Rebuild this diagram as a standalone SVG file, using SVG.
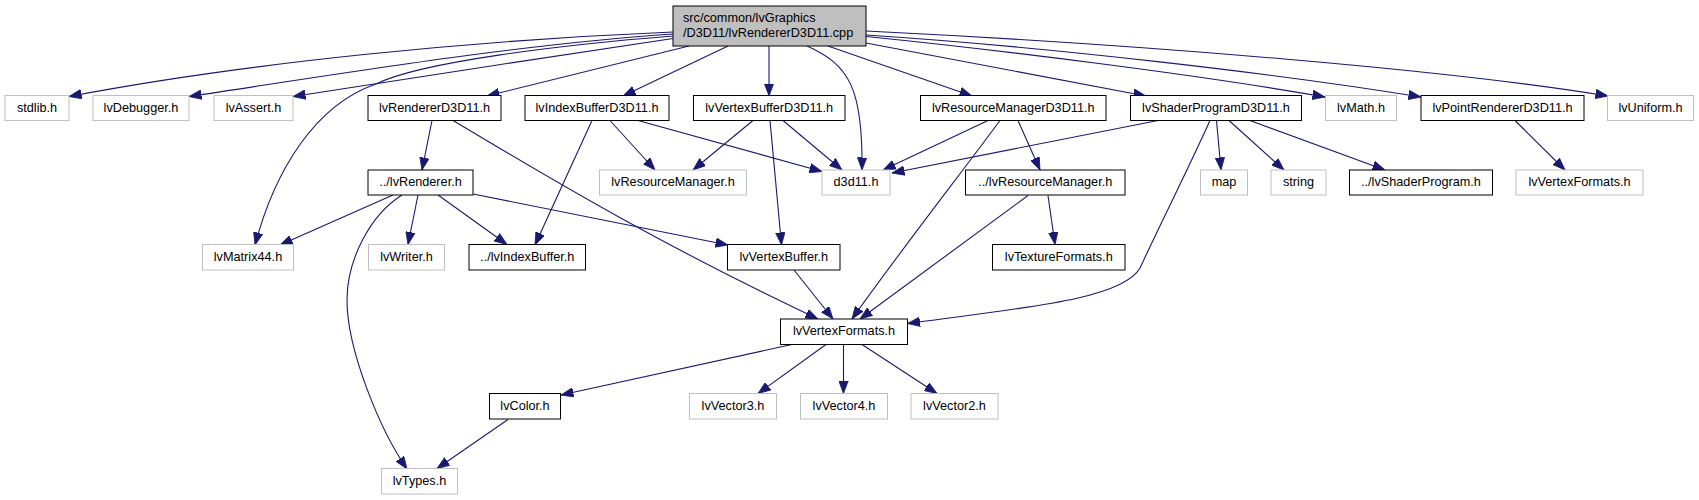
<svg xmlns="http://www.w3.org/2000/svg" width="1699" height="500" viewBox="0 0 1699 500">
<style>
rect{fill:#fff;stroke:#000;stroke-width:1}
.g rect{stroke:#c0c0c0}
.m rect{fill:#bfbfbf;stroke:#000}
text{font-family:"Liberation Sans",Arial,sans-serif;font-size:12.7px;fill:#000;text-anchor:middle}
.m text{text-anchor:start}
#edges path{fill:none;stroke:#191970;stroke-width:1.1;marker-end:url(#a)}
</style>
<defs>
<marker id="a" markerUnits="userSpaceOnUse" markerWidth="13" markerHeight="10" viewBox="0 0 13 10" refX="12.5" refY="5" orient="auto">
<path d="M0,0.3 L12.5,5 L0,9.7 z" fill="#191970" stroke="#191970" stroke-width="0.8"/>
</marker>
</defs>
<rect x="0" y="0" width="1699" height="500" style="fill:#fff;stroke:none"/>
<g id="edges">
<path d="M673,32 C480,40 250,62 69,96.5"/>
<path d="M673,34 C520,44 340,74 189,96.5"/>
<path d="M673,38.5 C560,55 400,80 293,96.5"/>
<path d="M673,36 C560,45 420,62 376,84 C315,105 275,170 255,245"/>
<path d="M689,46 L487,96"/>
<path d="M728,46 L623,96"/>
<path d="M769,46 L769,96"/>
<path d="M807,46 C850,65 863,90 862,170"/>
<path d="M828,46 L972,96"/>
<path d="M866,43 L1146,96"/>
<path d="M866,36.5 C1000,50 1200,75 1325,97"/>
<path d="M866,35 C1050,47 1280,74 1421,97"/>
<path d="M866,31 C1150,45 1450,70 1608,96"/>
<path d="M432,120.5 L422,170"/>
<path d="M453,120.5 C520,160 640,235 818,319"/>
<path d="M592,120.5 L535,245"/>
<path d="M610,120.5 L655,170"/>
<path d="M638,120.5 L822,171.5"/>
<path d="M753,120.5 L693,170"/>
<path d="M783,120.5 L842,170"/>
<path d="M770,120.5 L781.5,245"/>
<path d="M988,120.5 L883,170"/>
<path d="M1000,120.5 C965,168 895,258 852,319"/>
<path d="M1018,120.5 L1040,170"/>
<path d="M1158,120.5 L892,173"/>
<path d="M1210,120.5 C1190,165 1160,225 1140,268 C1122,300 1020,308 907.5,323.5"/>
<path d="M1216.5,120.5 L1221,170"/>
<path d="M1229,120.5 L1284,170"/>
<path d="M1250,120.5 L1385,170"/>
<path d="M1515,120.5 L1565,170"/>
<path d="M393,195 L280,245"/>
<path d="M402,195 C370,215 347,260 347,300 C347,350 380,430 407,469"/>
<path d="M418,195 L408,244.5"/>
<path d="M438,195 L507,244.5"/>
<path d="M473,194 L728,245"/>
<path d="M1028,195.5 L860,319"/>
<path d="M1048,195.5 L1055,244.5"/>
<path d="M794,270 L833,319"/>
<path d="M792,344.5 L561,395"/>
<path d="M826,344.5 L758,393.5"/>
<path d="M843.5,344.5 L843.5,393.5"/>
<path d="M862,344.5 L937,393.5"/>
<path d="M508,419.5 L437,468.5"/>
</g>
<g id="main" class="m"><rect x="673" y="6" width="193" height="40"/><text x="683" y="21.7">src/common/lvGraphics</text><text x="683" y="36.7">/D3D11/lvRendererD3D11.cpp</text></g>
<g id="stdlib" class="g"><rect x="5" y="95.5" width="64" height="25"/><text x="37" y="111.7">stdlib.h</text></g>
<g id="lvDebugger" class="g"><rect x="93" y="95.5" width="96" height="25"/><text x="141" y="111.7">lvDebugger.h</text></g>
<g id="lvAssert" class="g"><rect x="214" y="95.5" width="79" height="25"/><text x="253.5" y="111.7">lvAssert.h</text></g>
<g id="lvRendererD3D11"><rect x="368" y="95.5" width="133" height="25"/><text x="434.5" y="111.7">lvRendererD3D11.h</text></g>
<g id="lvIndexBufferD3D11"><rect x="525" y="95.5" width="144" height="25"/><text x="597" y="111.7">lvIndexBufferD3D11.h</text></g>
<g id="lvVertexBufferD3D11"><rect x="693.5" y="95.5" width="151.5" height="25"/><text x="769.25" y="111.7">lvVertexBufferD3D11.h</text></g>
<g id="lvResourceManagerD3D11"><rect x="920.5" y="95.5" width="185.5" height="25"/><text x="1013.25" y="111.7">lvResourceManagerD3D11.h</text></g>
<g id="lvShaderProgramD3D11"><rect x="1130.5" y="95.5" width="171" height="25"/><text x="1216" y="111.7">lvShaderProgramD3D11.h</text></g>
<g id="lvMath" class="g"><rect x="1325.5" y="95.5" width="71" height="25"/><text x="1361" y="111.7">lvMath.h</text></g>
<g id="lvPointRendererD3D11"><rect x="1421" y="95.5" width="163" height="25"/><text x="1502.5" y="111.7">lvPointRendererD3D11.h</text></g>
<g id="lvUniform" class="g"><rect x="1607.5" y="95.5" width="86" height="25"/><text x="1650.5" y="111.7">lvUniform.h</text></g>
<g id="lvRenderer"><rect x="368" y="170" width="105" height="25"/><text x="420.5" y="186.3">../lvRenderer.h</text></g>
<g id="lvResourceManager" class="g"><rect x="599.5" y="170" width="147" height="25"/><text x="673" y="186.3">lvResourceManager.h</text></g>
<g id="d3d11" class="g"><rect x="822" y="170" width="68" height="25"/><text x="856" y="186.3">d3d11.h</text></g>
<g id="lvResourceManagerUp"><rect x="965.5" y="170" width="159.5" height="25"/><text x="1045.25" y="186.3">../lvResourceManager.h</text></g>
<g id="map" class="g"><rect x="1200.5" y="170" width="47" height="25"/><text x="1224" y="186.3">map</text></g>
<g id="string" class="g"><rect x="1271" y="170" width="55" height="25"/><text x="1298.5" y="186.3">string</text></g>
<g id="lvShaderProgram"><rect x="1349.5" y="170" width="143" height="25"/><text x="1421" y="186.3">../lvShaderProgram.h</text></g>
<g id="lvVertexFormatsGray" class="g"><rect x="1516" y="170" width="127" height="25"/><text x="1579.5" y="186.3">lvVertexFormats.h</text></g>
<g id="lvMatrix44" class="g"><rect x="202.5" y="244.5" width="91" height="25.5"/><text x="248" y="260.8">lvMatrix44.h</text></g>
<g id="lvWriter" class="g"><rect x="368.5" y="244.5" width="76" height="25.5"/><text x="406.5" y="260.8">lvWriter.h</text></g>
<g id="lvIndexBuffer"><rect x="469" y="244.5" width="116.5" height="25.5"/><text x="527.25" y="260.8">../lvIndexBuffer.h</text></g>
<g id="lvVertexBuffer"><rect x="727.5" y="244.5" width="112.5" height="25.5"/><text x="783.75" y="260.8">lvVertexBuffer.h</text></g>
<g id="lvTextureFormats"><rect x="992.5" y="244.5" width="132.5" height="25.5"/><text x="1058.75" y="260.8">lvTextureFormats.h</text></g>
<g id="lvVertexFormats"><rect x="780.5" y="319" width="127" height="25.5"/><text x="844" y="335.3">lvVertexFormats.h</text></g>
<g id="lvColor"><rect x="489.5" y="393.5" width="71" height="25.5"/><text x="525" y="409.8">lvColor.h</text></g>
<g id="lvVector3" class="g"><rect x="689.5" y="393.5" width="87" height="25.5"/><text x="733" y="409.8">lvVector3.h</text></g>
<g id="lvVector4" class="g"><rect x="800.5" y="393.5" width="87" height="25.5"/><text x="844" y="409.8">lvVector4.h</text></g>
<g id="lvVector2" class="g"><rect x="911" y="393.5" width="87" height="25.5"/><text x="954.5" y="409.8">lvVector2.h</text></g>
<g id="lvTypes" class="g"><rect x="381.5" y="468.5" width="76" height="25.5"/><text x="419.5" y="484.8">lvTypes.h</text></g>
</svg>
